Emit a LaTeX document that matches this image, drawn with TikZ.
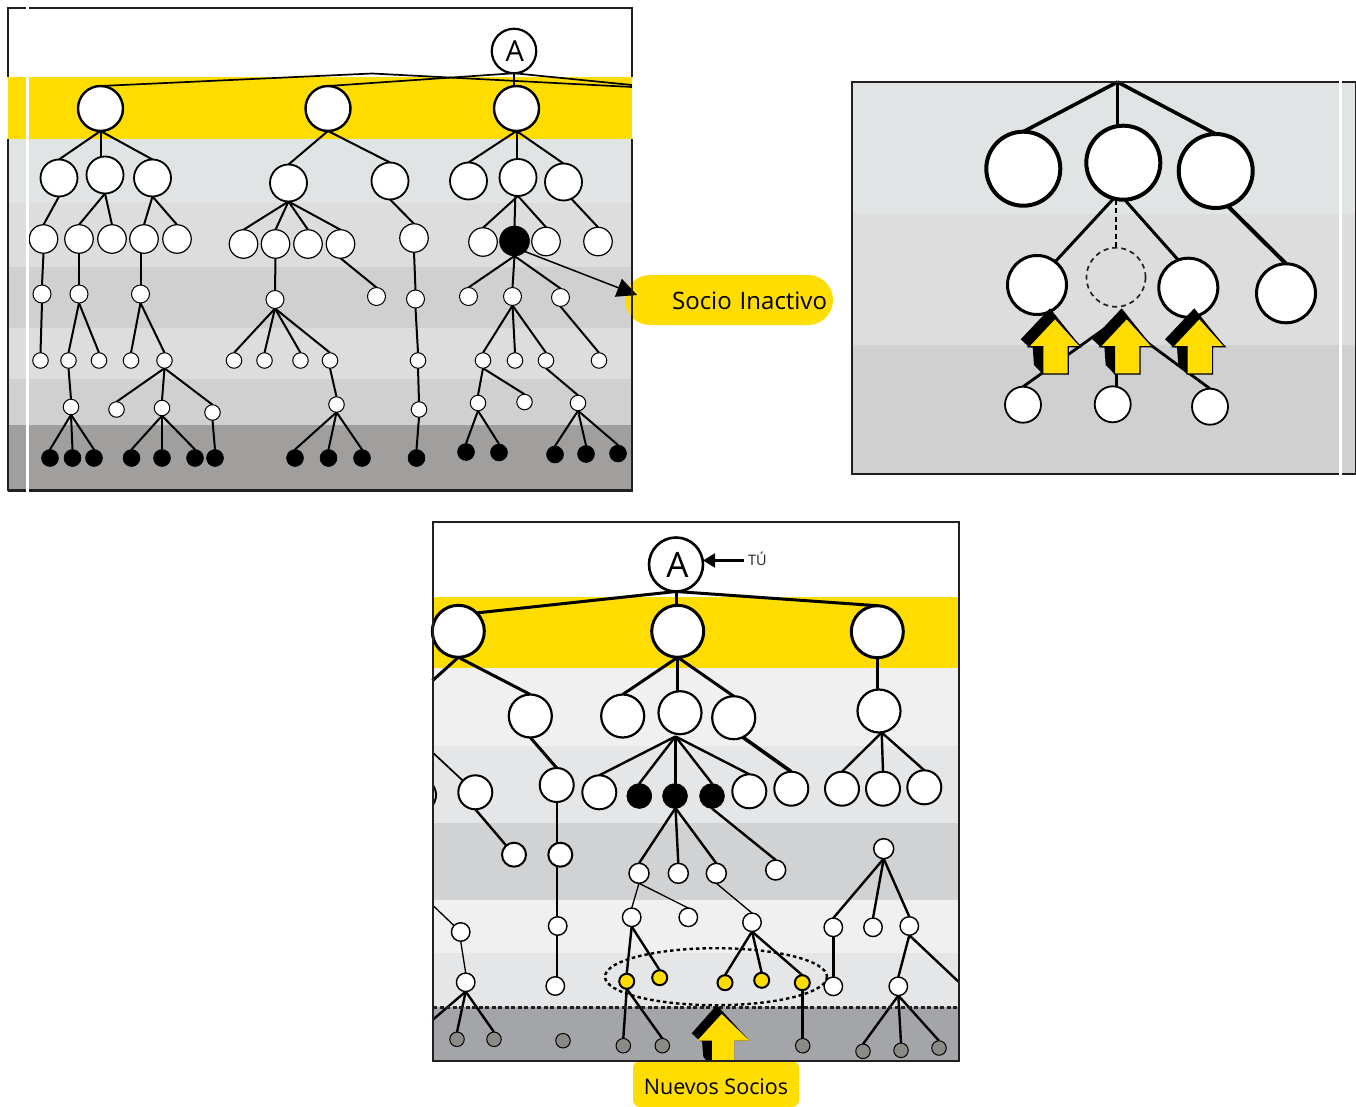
\documentclass[tikz,border=0pt]{standalone}
\usepackage{fontspec}
\setmainfont{Open Sans}
\usetikzlibrary{arrows.meta,calc}
\definecolor{yel}{HTML}{FFDD00}
\definecolor{bandA}{HTML}{E1E4E5}
\definecolor{bandB}{HTML}{DDDDDD}
\definecolor{bandC}{HTML}{D0D0D0}
\definecolor{bandD}{HTML}{A19F9D}
\definecolor{bandE}{HTML}{F0F0F0}
\definecolor{bandF}{HTML}{E5E6E8}
\definecolor{bandG}{HTML}{D1D2D4}
\definecolor{bandH}{HTML}{A4A5A9}
\definecolor{frm}{HTML}{231F20}
\definecolor{leaf}{HTML}{8C8A87}
\pgfdeclarelayer{bands}
\pgfdeclarelayer{edges}
\pgfdeclarelayer{front}
\pgfsetlayers{bands,edges,main,front}
\tikzset{
  nd/.style n args={2}{circle,draw=black,fill=white,inner sep=0pt,outer sep=0pt,minimum size=#1,line width=#2},
  blk/.style={circle,draw=black,fill=black,inner sep=0pt,outer sep=0pt,minimum size=#1,line width=0.5pt},
  ylw/.style={circle,draw=black,fill=yel,inner sep=0pt,outer sep=0pt,minimum size=15pt,line width=2pt},
  gry/.style={circle,draw=black,fill=leaf,inner sep=0pt,outer sep=0pt,minimum size=14.5pt,line width=1pt},
  ln/.style={draw=black,line width=2pt},
  lnmid/.style={draw=black,line width=2.4pt},
  lnth/.style={draw=black,line width=3pt},
  lnthin/.style={draw=black,line width=1.3pt},
  framed/.style={draw=frm,line width=2.4pt},
  upbig/.pic={
    \fill[black] (-5,-10) -- (-34.3,21) -- (-25.7,29) -- (-22.3,29) -- (-21,46.7) -- (-12.3,55.7) -- (13.3,55.7) -- (13.3,28.4) -- (25.7,28.4) -- cycle;
    \draw[black,fill=yel,line width=1.2pt,line join=miter] (0,0) -- (25.7,28.4) -- (13.3,28.4) -- (13.3,55.7) -- (-12.3,55.7) -- (-12.3,28.4) -- (-26.7,28.4) -- cycle;
  }
}
\begin{document}
\begin{tikzpicture}[x=1pt,y=-1pt]
\useasboundingbox (0,0) rectangle (1356,1107);
% ---------- bands ----------
\begin{pgfonlayer}{bands}
\foreach \c/\a/\b in {yel/77/139,bandA/139/203,bandB/203/267,bandC/267/328,bandB/328/379,bandC/379/425,bandD/425/490}
  \fill[\c] (8,\a) rectangle (632,\b);
\foreach \c/\a/\b in {bandA/82/214,bandB/214/345,bandC/345/474}
  \fill[\c] (852,\a) rectangle (1355.5,\b);
\foreach \c/\a/\b in {yel/597/668,bandE/668/746,bandF/746/823,bandG/823/900,bandE/900/953,bandF/953/1007,bandH/1007/1060.5}
  \fill[\c] (433,\a) rectangle (959,\b);
\end{pgfonlayer}
% ---------- panel 1 nodes ----------
\node[nd={44.5pt}{2.2pt},font=\fontsize{29}{29}\selectfont] (A) at (514,51) {\hspace{1.5pt}A};
\foreach \n/\x/\y in {a1/100.5/108.5,a2/328/108.5,a3/516.5/108.5}
  \node[nd={45pt}{2.4pt}] (\n) at (\x,\y) {};
\foreach \n/\x/\y in {b1/59/178,b2/105/175,b3/152.5/178,b4/288.5/183,b5/390/181,b6/468.5/181,b7/518/177.5,b8/563.5/182}
  \node[nd={37pt}{1.8pt}] (\n) at (\x,\y) {};
\foreach \n/\x/\y in {c1/43.5/239,c2/79/239,c3/112/239,c4/144/239,c5/177/239,c6/243.5/244,c7/275.5/244,c8/308/244,c9/340.5/244,c10/414/238,c11/483/242,c13/546/241.5,c14/598/241.5}
  \node[nd={28.5pt}{1.2pt}] (\n) at (\x,\y) {};
\node[blk=30pt] (c12) at (514.5,241) {};
\foreach \n/\x/\y in {d1/42/294,d2/79/294,d3/140.5/294,d4/275/299.5,d5/376.5/296.5,d6/415.5/299,d7/468.5/296.5,d8/512.5/296.5,d9/560.5/297.5}
  \node[nd={18pt}{1pt}] (\n) at (\x,\y) {};
\foreach \n/\x/\y in {e1/40.5/360.5,e2/68.5/360.5,e3/99/360.5,e4/131/360.5,e5/164.5/360.5,e6/234/360.5,e7/264.5/360.5,e8/300.5/360.5,e9/330/360.5,e10/418/360.5,e11/483/360.5,e12/515/360.5,e13/546/360.5,e14/599/360.5,f1/71/407,f2/116.5/409.5,f3/162/408,f4/212.5/412.5,f5/336.5/404.5,f6/419/409.5,f7/478/403,f8/524.5/402,f9/578/403}
  \node[nd={15.5pt}{1pt}] (\n) at (\x,\y) {};
\foreach \n/\x/\y in {g1/50/458,g2/72.5/458,g3/94/458,g4/131.5/458,g5/162/458,g6/195/458,g7/215/458,g8/295/458,g9/328.5/458,g10/362/458,g11/416.5/458,g12/466/452,g13/499/452.5,g14/555/454.5,g15/586/454,g16/618/453.5}
  \node[blk=17pt] (\n) at (\x,\y) {};
\coordinate (k1) at (372,73.5);
\coordinate (k2) at (632,87);
\coordinate (k3) at (632,85);
\node[fill=yel,rounded corners=25pt,minimum height=50pt,text width=196pt,inner xsep=6pt,inner ysep=0pt,align=right,font=\fontsize{24}{24}\selectfont] (si) at (729,300) {\raisebox{-1pt}[\height][\depth]{Socio Inactivo}};
\coordinate (sitip) at (637,295);
% ---------- panel 2 nodes ----------
\coordinate (R) at (1117.5,82);
\foreach \n/\x/\y in {p1/1023.3/168.7,p2/1123.3/162.7,p3/1215.7/171}
  \node[nd={74pt}{4pt}] (\n) at (\x,\y) {};
\foreach \n/\x/\y in {q1/1037/285,q3/1188.3/287.7,q4/1286/293.3}
  \node[nd={59pt}{3pt}] (\n) at (\x,\y) {};
\node[circle,draw=frm,dash pattern=on 5pt off 4pt,line width=1.7pt,inner sep=0pt,outer sep=0pt,minimum size=59pt] (q2) at (1116,277.3) {};
\foreach \n/\x/\y in {s1/1023/404.7,s2/1112.7/404.3,s3/1210/406.7}
  \node[nd={36pt}{1.8pt}] (\n) at (\x,\y) {};
\coordinate (qb) at (1116.7,320);
% ---------- panel 3 nodes ----------
\node[nd={54pt}{2.6pt},font=\fontsize{35}{35}\selectfont] (B) at (676,564.5) {\hspace{3pt}A};
\foreach \n/\x/\y in {u1/458.3/631.3,u2/677.7/631.3,u3/877.3/631.7}
  \node[nd={52pt}{3pt}] (\n) at (\x,\y) {};
\foreach \n/\x/\y in {v1/530.3/716,v2/622.7/716,v3/680/712.7,v4/733.7/717.7,v5/879/711}
  \node[nd={43pt}{2.2pt}] (\n) at (\x,\y) {};
\begin{scope}
\clip (433,700) rectangle (500,900);
\node[nd={34pt}{2pt}] (w0) at (419,795) {};
\end{scope}
\foreach \n/\x/\y in {w1/475.3/792.3,w2/556.7/785,w3/599.3/792.3,w7/749.3/791.3,w8/791.3/788.7,w9/842/788.7,w10/883/788.7,w11/924.3/787.3}
  \node[nd={34pt}{2pt}] (\n) at (\x,\y) {};
\foreach \n/\x/\y in {w4/639.3/796,w5/675/796,w6/712/796}
  \node[blk=25pt] (\n) at (\x,\y) {};
\foreach \n/\x/\y in {x1/514/854.7,x2/560.3/854.7}
  \node[nd={24pt}{2pt}] (\n) at (\x,\y) {};
\foreach \n/\x/\y in {x3/639/873.3,x4/678.3/873.3,x5/716.3/873.3,x6/775.7/870,x7/883.7/848.7}
  \node[nd={20pt}{1.5pt}] (\n) at (\x,\y) {};
\foreach \n/\x/\y in {y1/460.7/932,y2/557.7/926,y3/631.7/917.3,y4/688.3/917.3,y5/752/922.3,y6/833.3/927.3,y7/873/927.3,y8/909.3/926,z1/465.7/982.3,z2/555.3/986,z3/833.3/986.3,z4/898.3/986.3}
  \node[nd={18.5pt}{1.4pt}] (\n) at (\x,\y) {};
\foreach \n/\x/\y in {ya/626.7/981.3,yb/659.7/977.7,yc/725/982.7,yd/761.7/980.3,ye/802.3/982.7}
  \node[ylw] (\n) at (\x,\y) {};
\foreach \n/\x/\y in {h1/457/1039.3,h2/494/1039.3,h3/563/1040.7,h4/623.3/1045.7,h5/662.3/1045.7,h6/802.7/1045.7,h7/863/1051.3,h8/901/1050.3,h9/939/1048}
  \node[gry] (\n) at (\x,\y) {};
\coordinate (v3b) at (675.5,736.5);
\coordinate (w5b) at (675.5,808);
\coordinate (off1) at (432.5,680.7);
\coordinate (off2) at (432.5,752.3);
\coordinate (off3) at (432.5,905);
\coordinate (off4) at (432.5,1020);
\coordinate (off5) at (958.5,981.7);
\coordinate (tuend) at (744,560.5);
\node[inner sep=0pt,anchor=west,font=\fontsize{14.5}{14.5}\selectfont,text=frm] (tu) at (748,558.5) {TÚ};
\node[fill=yel,minimum width=166pt,minimum height=46pt,inner sep=0pt,rounded corners=7pt,font=\fontsize{21.5}{21.5}\selectfont] (ns) at (716,1084) {\raisebox{-2.4pt}[\height][\depth]{Nuevos Socios}};
% ---------- edges ----------
\begin{pgfonlayer}{edges}
\draw[ln,line width=1.7pt,line join=round] (a1.north) -- (k1) -- (k2);
\draw[ln,line width=1.7pt,line join=round] (a2.north) -- (A.south) -- (k3);
\draw[ln] (A.south) -- (A.south|-a3.north);
\draw[ln] (a1.south) -- (a1.south|-b2.north);
\draw[ln] (a3.south) -- (a3.south|-b7.north);
\draw[ln] (b7.south) ++(-2.7,0) -- (c12.north);
\draw[ln] (b8.-65) -- (c14.north);
\draw[ln] (d3.north|-c4.south) -- (d3.north);
\foreach \p/\c in {a1/b1,a1/b3,a2/b4,a2/b5,a3/b6,a3/b8,b1/c1,b2/c2,b2/c3,b3/c4,b3/c5,b4/c6,b4/c7,b4/c8,b4/c9,b5/c10,b7/c11,b7/c13,c1/d1,c2/d2,c7/d4,c9/d5,c10/d6,c12/d7,c12/d8,c12/d9,d1/e1,d2/e2,d2/e3,d3/e4,d3/e5,d4/e6,d4/e7,d4/e8,d4/e9,d6/e10,d8/e11,d8/e12,d8/e13,d9/e14,e2/f1,e5/f2,e5/f3,e5/f4,e9/f5,e10/f6,e11/f7,e11/f8,e13/f9,f1/g1,f1/g2,f1/g3,f3/g4,f3/g5,f3/g6,f4/g7,f5/g8,f5/g9,f5/g10,f6/g11,f7/g12,f7/g13,f9/g14,f9/g15,f9/g16}
  \draw[ln] (\p.south) -- (\c.north);
% panel 2
\foreach \c in {p1,p3} \draw[ln,line width=3.6pt] (R) -- (\c.north);
\draw[ln,line width=3.6pt] (R) -- (R|-p2.north);
\draw[ln,line width=3pt] (p2.-105) -- (q1.52);
\draw[ln,line width=3pt] (p2.-88) -- (q3.110);
\draw[ln,line width=4pt] (p3.-71) -- (q4.north);
\draw[ln,line width=2pt,dash pattern=on 5pt off 3.5pt] (q2.north|-p2.south) -- (q2.north);
\foreach \c in {s1,s3} \draw[ln,line width=2.8pt] (qb) -- (\c.north);
\draw[ln,line width=2.8pt] (qb) -- (qb|-s2.north);
% panel 3
\draw[lnth] (B.south) -- (u1.45);
\draw[lnth] (B.south) -- (B.south|-u2.north);
\draw[lnth] (B.south) -- (u3.north);
\draw[lnth] (u1.south) -- (off1);
\draw[lnth] (u2.south) -- (u2.south|-v3.north);
\draw[lnth] (u3.south) -- (u3.south|-v5.north);
\foreach \p/\c in {u1/v1,u2/v2,u2/v4,v1/w2} \draw[lnth] (\p.south) -- (\c.north);
\draw[lnth,line width=3.6pt] (v4.-65) -- (w8.north);
\draw[lnmid] (v5.south) ++(2.7,0) -- (w9.north);
\draw[lnmid] (v5.south) ++(2.7,0) -- (w10.north);
\draw[lnmid] (v5.south) ++(2.7,0) -- (w11.north);
\draw[lnmid] (v3b) -- (w3.north);
\draw[lnmid] (v3b) -- (w4.north);
\draw[lnmid] (v3b) -- (v3b|-w5.north);
\draw[lnmid] (v3b) -- (w6.north);
\draw[lnmid] (v3b) -- (w7.north);
\draw[lnmid] (w1.south) -- (x1);
\draw[lnmid] (w2.south) -- (w2.south|-x2.north);
\draw[lnmid] (w2.south|-x2.south) -- (w2.south|-y2.north);
\draw[lnmid] (w2.south|-y2.south) -- (w2.south|-z2.north);
\draw[lnmid] (y6.south) -- (y6.south|-z3.north);
\draw[lnmid] (ye.south) -- (ye.south|-h6.north);
\draw[lnmid] (w6.south) -- (x6.north);
\foreach \c in {x3,x4,x5} \draw[lnmid] (w5b) -- (\c.north);
\foreach \p/\c in {y3/ya,y3/yb,y5/yc,y5/yd,y5/ye,ya/h4,ya/h5,x7/y6,x7/y7,x7/y8,y8/z4,z1/h1,z1/h2,z4/h7,z4/h8,z4/h9}
  \draw[lnmid] (\p.south) -- (\c.north);
\foreach \p/\c in {x3/y3,x3/y4,x5/y5,y1/z1} \draw[lnthin] (\p.south) -- (\c.north);
\draw[lnthin] (off3) -- (y1);
\draw[ln,line width=1.7pt] (off2) -- (w1);
\draw[lnmid] (y8.south) -- (off5);
\draw[lnmid] (z1.south) -- (off4);
\end{pgfonlayer}
% ---------- front ----------
\begin{pgfonlayer}{front}
\draw[line width=1.5pt,-{Triangle[length=20pt,width=19pt]}] (c12.-45) -- (sitip);
\draw[line width=2.2pt,-{Triangle[length=12pt,width=14pt]}] (tuend) -- (B.east|-tuend);
\draw[frm,line width=3pt,dash pattern=on 4pt off 2.5pt] (433,1007) -- (959,1007);
\draw[black,line width=2.4pt,dash pattern=on 3.5pt off 3pt] (716,976.7) ellipse [x radius=111,y radius=28.5];
\foreach \x in {1055,1126.7,1199.3} \pic at (\x,318.3) {upbig};
\fill[black] (716.7,1005) -- (691.7,1033.3) -- (700,1041) -- (702,1041) -- (703.3,1056.7) -- (706.7,1061) -- (734,1061) -- (734,1040.7) -- (749.3,1040.7) -- cycle;
\fill[yel] (721.7,1014) -- (749.3,1040.7) -- (734,1040.7) -- (734,1061.5) -- (712,1061.5) -- (712,1040.7) -- (697.3,1040.7) -- cycle;
\draw[framed] (8,77) |- (632,8) -- (632,77);
\draw[frm,line width=1.2pt] (8,139) -- (8,490.5);
\draw[frm,line width=1.8pt] (632.3,139) -- (632.3,490.5);
\draw[framed] (7.5,490.5) -- (632.5,490.5);
\fill[white] (26,5) rectangle (29,492.5);
\draw[frm,line width=1.7pt] (852,82) rectangle (1355.5,474);
\fill[white] (1339,80) rectangle (1341.5,476);
\draw[frm,line width=2.8pt] (433,522) rectangle (959,1061);
\end{pgfonlayer}
\end{tikzpicture}
\end{document}
